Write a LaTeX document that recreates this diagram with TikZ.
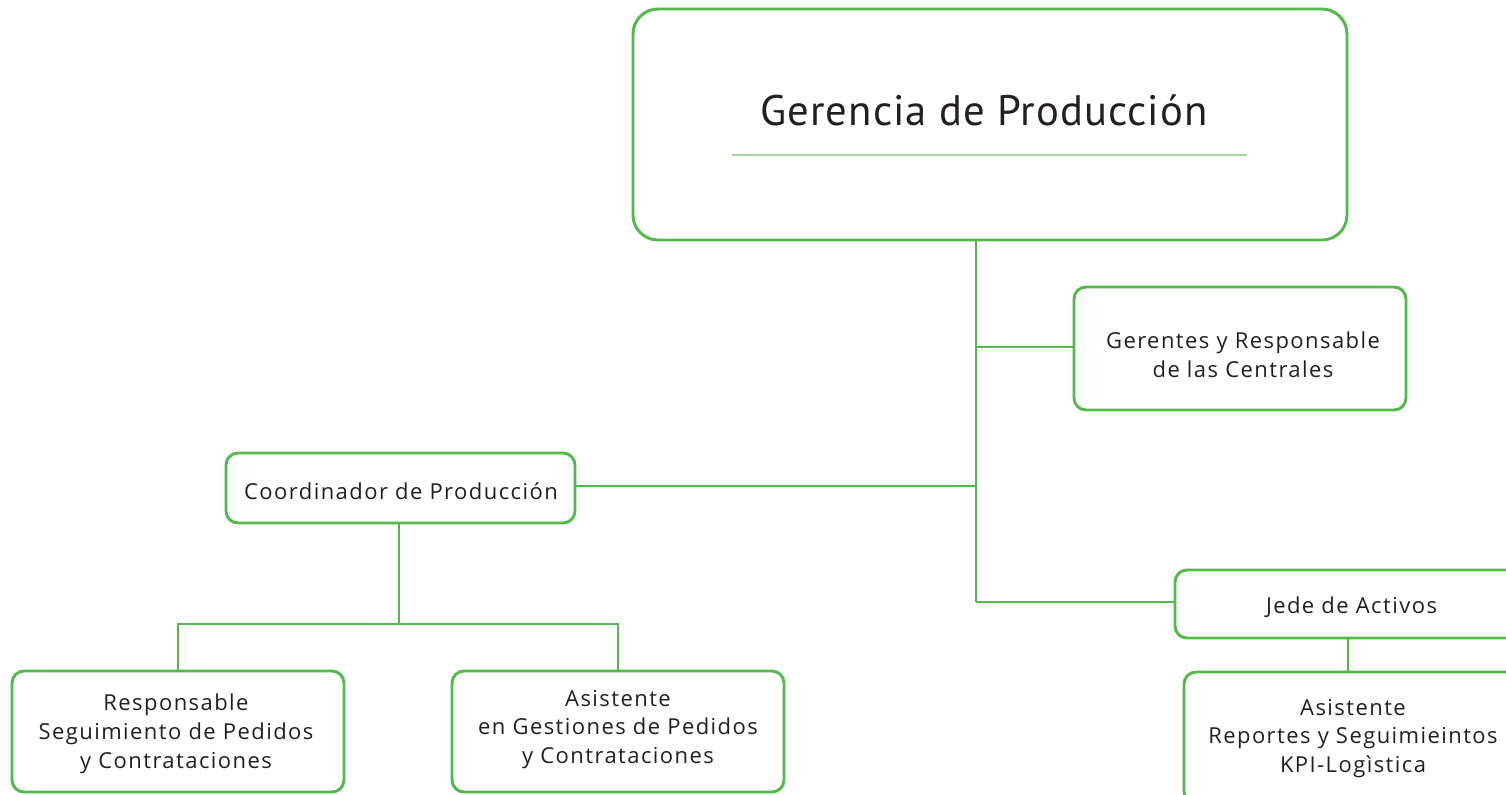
\documentclass[tikz,border=0pt]{standalone}
\usepackage{fontspec}
\setmainfont{Open Sans}[LetterSpace=6.5]
\newfontfamily\titlefont{PT Sans}[LetterSpace=2.4]
\definecolor{grn}{RGB}{82,186,74}
\definecolor{lgrn}{RGB}{165,214,160}
\definecolor{txt}{RGB}{35,31,32}
\begin{document}
\begin{tikzpicture}[x=0.75pt,y=-0.75pt,
  box/.style={draw=grn, line width=2.2pt, rounded corners=9pt, fill=white, inner sep=0pt},
  lbl/.style={inner sep=0pt, align=center, text=txt, font=\fontsize{16.5}{21.6}\selectfont},
  link/.style={draw=grn, line width=2.2pt}]
\useasboundingbox (0,0) rectangle (1506,794);
\clip (0,0) rectangle (1506,794);
\fill[white] (0,0) rectangle (1506,794);
% boxes
\node[box, rounded corners=18.75pt, minimum width=535.5pt, minimum height=173.25pt] (ger) at (990,124.5) {};
\node[text=txt, font=\titlefont\fontsize{32}{36}\selectfont, inner sep=0pt] (gertitle) at (984,110) {Gerencia de Producción};
\coordinate (ul) at (732,155);
\coordinate (ur) at (1247,155);
\draw[lgrn, line width=1.2pt] (ul) -- (ur);
\node[box, minimum width=249pt, minimum height=92.25pt] (gerentes) at (1240,348.5) {};
\node[lbl] (gerentesT) at (1243,354.5) {Gerentes y Responsable\\de las Centrales};
\node[box, minimum width=261.75pt, minimum height=52.5pt] (coord) at (400.5,488) {};
\node[lbl] (coordT) at (401,491) {Coordinador de Producción};
\node[box, minimum width=264pt, minimum height=51pt] (jede) at (1351,604) {};
\node[lbl] (jedeT) at (1351.5,607) {Jede de Activos};
\node[box, minimum width=253.5pt, minimum height=99pt] (asisrep) at (1353,738) {};
\node[lbl] (asisrepT) at (1353,738.5) {Asistente\\Reportes y Seguimieintos\\KPI-Logìstica};
\node[box, minimum width=249pt, minimum height=90.75pt] (resp) at (178,731.5) {};
\node[lbl] (respT) at (176,734) {Responsable\\Seguimiento de Pedidos\\y Contrataciones};
\node[box, minimum width=249pt, minimum height=90.75pt] (asisgest) at (618,731.5) {};
\node[lbl] (asisgestT) at (618,729.5) {Asistente\\en Gestiones de Pedidos\\y Contrataciones};
% junctions
\coordinate (j1) at (976,347);
\coordinate (j2) at (976,486);
\coordinate (j3) at (976,602);
\coordinate (k) at (399,624);
\coordinate (m) at (1348,0);
% connectors
\draw[link] (ger.south -| j1) -- (j3);
\draw[link] (j1) -- (j1 -| gerentes.west);
\draw[link] (j2 -| coord.east) -- (j2);
\draw[link] (j3) -- (j3 -| jede.west);
\draw[link] (coord.south -| k) -- (k);
\draw[link] (resp.north) -- (resp.north |- k) -- (asisgest.north |- k) -- (asisgest.north);
\draw[link] (jede.south -| m) -- (asisrep.north -| m);
\end{tikzpicture}
\end{document}
